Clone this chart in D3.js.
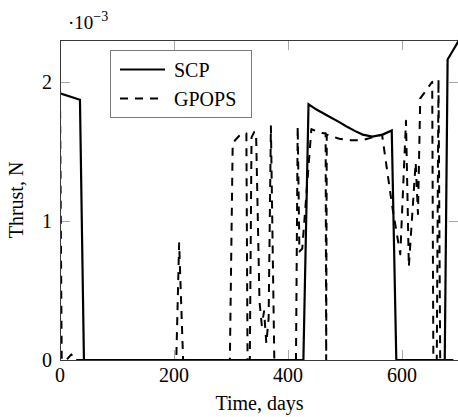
<!DOCTYPE html>
<html>
<head>
<meta charset="utf-8">
<script src="https://cdn.jsdelivr.net/npm/d3@7"></script>
<style>
  html, body { margin: 0; padding: 0; background: #fff; }
  svg { display: block; font-family: "Liberation Serif", "DejaVu Serif", serif; }
</style>
</head>
<body>
<svg id="chart" width="458" height="417"></svg>
<script>
// Thrust history (units of 1e-3 N) against time in days
const scpTime  = [0, 35, 42, 427, 436, 450, 472, 490, 502, 518, 531, 548, 566, 582, 590, 675, 680, 693, 700];
const scpThrust = [1.917, 1.87, 0, 0, 1.838, 1.80, 1.75, 1.71, 1.68, 1.645, 1.62, 1.605, 1.62, 1.65, 0, 0, 2.16, 2.25, 2.30];

const gpopsTime = [0, 3, 11, 20, 24, 204, 209, 216, 298, 303, 314, 327, 329, 333, 336, 341, 344, 350, 354, 358, 362, 366, 370, 376, 414, 417, 420, 425, 441, 452, 462, 466, 467, 468, 490, 510, 530, 548, 565, 583, 597, 607, 612, 624, 628, 632, 641, 653, 655, 661, 664, 667, 700];
const gpopsThrust = [1.9, 0, 0, 0.04, 0, 0, 0.84, 0, 0, 1.56, 1.61, 1.63, 0, 0, 1.6, 1.64, 1.63, 0.42, 0.25, 0.35, 0.12, 0.3, 1.68, 0, 0, 1.68, 0.78, 0.8, 1.66, 1.64, 1.63, 1.63, 0, 1.62, 1.59, 1.58, 1.58, 1.6, 1.62, 1.1, 0.76, 1.72, 0.67, 1.42, 1.05, 1.88, 1.93, 2.0, 0, 0, 2.02, 0, 0];

const xTicks = [0, 200, 400, 600];
const yTicks = [0, 1, 2];
const seriesNames = ["SCP", "GPOPS"];

const svg = d3.select("#chart");
const margin = { left: 60, right: 459, top: 40, bottom: 360 };

const x = d3.scaleLinear().domain([0, 700]).range([margin.left, margin.right]);
const y = d3.scaleLinear().domain([0, 2.3]).range([margin.bottom, margin.top]);

// clip the curves to the axis box
svg.append("defs").append("clipPath").attr("id", "plotclip")
  .append("rect")
  .attr("x", margin.left).attr("y", margin.top - 1)
  .attr("width", margin.right - margin.left).attr("height", margin.bottom - margin.top + 1);

// inward tick marks on all four sides
const tickG = svg.append("g").attr("stroke", "#a8a8a8").attr("stroke-width", 1);
xTicks.forEach(t => {
  const px = Math.round(x(t)) + 0.5;
  tickG.append("line").attr("x1", px).attr("x2", px).attr("y1", margin.bottom).attr("y2", margin.bottom - 10);
  tickG.append("line").attr("x1", px).attr("x2", px).attr("y1", margin.top).attr("y2", margin.top + 10);
});
yTicks.forEach(v => {
  const py = Math.round(y(v)) + 0.5;
  tickG.append("line").attr("x1", margin.left).attr("x2", margin.left + 10).attr("y1", py).attr("y2", py);
  tickG.append("line").attr("x1", margin.right).attr("x2", margin.right - 10).attr("y1", py).attr("y2", py);
});

const line = d3.line().x(d => x(d[0])).y(d => y(d[1]));
const scpData = scpTime.map((t, i) => [t, scpThrust[i]]);
const gpopsData = gpopsTime.map((t, i) => [t, gpopsThrust[i]]);

const plot = svg.append("g").attr("clip-path", "url(#plotclip)");
plot.append("path").datum(gpopsData)
  .attr("d", line).attr("fill", "none").attr("stroke", "#000")
  .attr("stroke-width", 2).attr("stroke-dasharray", "8,7").attr("stroke-linejoin", "round");
plot.append("path").datum(scpData)
  .attr("d", line).attr("fill", "none").attr("stroke", "#000")
  .attr("stroke-width", 2.2).attr("stroke-linejoin", "miter");

// axis box
svg.append("rect")
  .attr("x", margin.left + 0.5).attr("y", margin.top + 0.5)
  .attr("width", margin.right - margin.left).attr("height", margin.bottom - margin.top)
  .attr("fill", "none").attr("stroke", "#3a3a3a").attr("stroke-width", 1);

// tick labels
svg.append("g").selectAll("text").data(xTicks).join("text")
  .attr("x", d => x(d)).attr("y", 382)
  .attr("text-anchor", "middle").attr("font-size", 20).text(d => d);
svg.append("g").selectAll("text").data(yTicks).join("text")
  .attr("x", 52).attr("y", d => y(d) + 7)
  .attr("text-anchor", "end").attr("font-size", 20).text(d => d);

// scale factor above the y axis
const sf = svg.append("text").attr("x", 68).attr("y", 29).attr("font-size", 19);
sf.append("tspan").text("·10");
sf.append("tspan").attr("dy", -8).attr("font-size", 14).text("−3");

// axis titles
svg.append("text").attr("x", (margin.left + margin.right) / 2).attr("y", 410)
  .attr("text-anchor", "middle").attr("font-size", 20).text("Time, days");
svg.append("text").attr("transform", "translate(23," + ((margin.top + margin.bottom) / 2) + ") rotate(-90)")
  .attr("text-anchor", "middle").attr("font-size", 20).text("Thrust, N");

// legend
const lg = svg.append("g");
lg.append("rect").attr("x", 110.5).attr("y", 50.5).attr("width", 141).attr("height", 67)
  .attr("fill", "#fff").attr("stroke", "#7a7a7a").attr("stroke-width", 1);
seriesNames.forEach((name, i) => {
  const ly = 69.5 + i * 29;
  lg.append("line").attr("x1", 120).attr("x2", 165).attr("y1", ly).attr("y2", ly)
    .attr("stroke", "#000").attr("stroke-width", 2.2)
    .attr("stroke-dasharray", i === 1 ? "8,7" : null);
  lg.append("text").attr("x", 174).attr("y", ly + 7).attr("font-size", 20).text(name);
});
</script>
</body>
</html>
